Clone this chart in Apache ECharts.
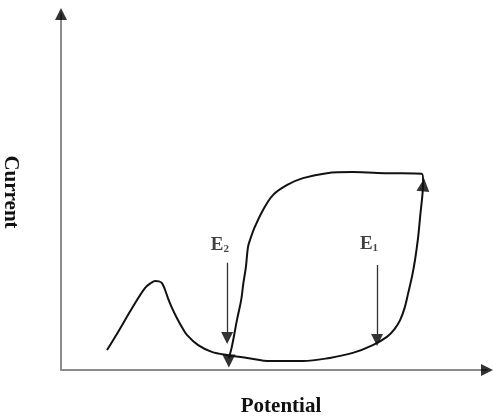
<!DOCTYPE html>
<html>
<head>
<meta charset="utf-8">
<script src="https://cdn.jsdelivr.net/npm/echarts@6/dist/echarts.min.js"></script>
<style>html,body{margin:0;padding:0;background:#fff}#c{width:493px;height:417px}</style>
</head>
<body>
<div id="c"></div>
<script>
// Forward scan (x = potential, y = current), arbitrary units
const forwardScan = [
  [10.8,5.6],[13.4,10.7],[16.7,17.4],[19.7,23.0],[21.2,24.5],[22.1,25.0],[23.0,24.9],[23.7,24.4],
  [24.4,22.6],[25.1,20.2],[26.1,17.3],[27.2,14.6],[28.4,12.0],[29.6,9.8],[32.2,7.0],[35.4,5.1],[39.0,4.2],
  [43.7,3.4],[49.1,2.5],[56.8,2.5],[63.1,3.4],[68.5,4.8],[73.2,7.0],
  [76.5,9.3],[78.3,11.5],[79.6,14.0],[80.7,17.6],[81.5,21.6],[82.4,26.3],[83.1,30.9],[83.8,37.0],[84.3,43.0],[85.0,52.8]
];
// Reverse scan
const reverseScan = [
  [85.0,52.8],[84.7,55.1],[76.5,55.3],[68.5,55.6],[62.4,55.3],[56.8,53.9],
  [53.1,52.0],[49.8,49.2],[47.4,44.9],[45.5,40.2],[44.5,37.0],[43.9,34.6],[43.4,28.9],
  [42.8,24.3],[42.3,19.7],[41.3,14.0],[40.1,6.5],[39.4,3.4]
];
// Scan direction arrowheads: [x, y, rotation]
const scanArrows = [[85.1,52.0,-6],[39.4,2.5,180]];
// Marker potentials E1, E2: [x, yStart, yEnd]
const markerArrows = [[39.0,30.1,9.0],[74.2,29.5,8.4]];
const markerLabels = [["E","2",37.3,35.1],["E","1",72.3,35.4]];
const xName = "Potential";
const yName = "Current";

const chart = echarts.init(document.getElementById('c'), null, {renderer:'canvas'});
const serif = '"Liberation Serif","Times New Roman",serif';
const axisCommon = {
  type:'value', min:0, max:100,
  axisLine:{show:true, lineStyle:{color:'#8c8c8c', width:2}},
  axisTick:{show:false}, axisLabel:{show:false}, splitLine:{show:false}
};
chart.setOption({
  animation:false,
  backgroundColor:'#fff',
  grid:{left:61, right:6, top:14, bottom:47, containLabel:false, outerBoundsMode:'none'},
  xAxis:Object.assign({}, axisCommon, {
    name:xName, nameLocation:'middle', nameGap:26,
    nameTextStyle:{fontFamily:serif, fontWeight:'bold', fontSize:21, color:'#111', padding:[0,0,0,14]}
  }),
  yAxis:Object.assign({}, axisCommon, {
    name:yName, nameLocation:'middle', nameGap:40, nameRotate:-90,
    nameTextStyle:{fontFamily:serif, fontWeight:'bold', fontSize:21, color:'#111'}
  }),
  series:[
    {type:'line', data:forwardScan.concat(reverseScan.slice(1)), smooth:0.35, showSymbol:false, clip:false,
     lineStyle:{color:'#111', width:2}},
    {type:'scatter', clip:false, symbol:'triangle', symbolSize:[13,13],
     itemStyle:{color:'#000'},
     data:scanArrows.map(a=>({value:[a[0],a[1]], symbolRotate:a[2]}))},
    {type:'scatter', clip:false, symbol:'triangle', symbolSize:[12,12], itemStyle:{color:'#000'},
     data:[{value:[0,100], symbolRotate:0},{value:[100,0], symbolRotate:-90}]},
    {type:'lines', coordinateSystem:'cartesian2d', polyline:false,
     symbol:['none','triangle'], symbolSize:12,
     lineStyle:{color:'#333', width:1.3, opacity:1},
     data:markerArrows.map(m=>({coords:[[m[0],m[1]],[m[0],m[2]]]}))},
    {type:'scatter', symbolSize:0, clip:false,
     label:{show:true, position:'inside',
       formatter:p=>'{e|'+p.data.t+'}{s|'+p.data.s+'}',
       rich:{
         e:{fontFamily:serif, fontWeight:'bold', fontSize:19, color:'#111', lineHeight:20},
         s:{fontFamily:serif, fontWeight:'bold', fontSize:11, color:'#111', verticalAlign:'bottom', lineHeight:14}
       }},
     data:markerLabels.map(l=>({value:[l[2],l[3]], t:l[0], s:l[1]}))}
  ]
});
</script>
</body>
</html>
